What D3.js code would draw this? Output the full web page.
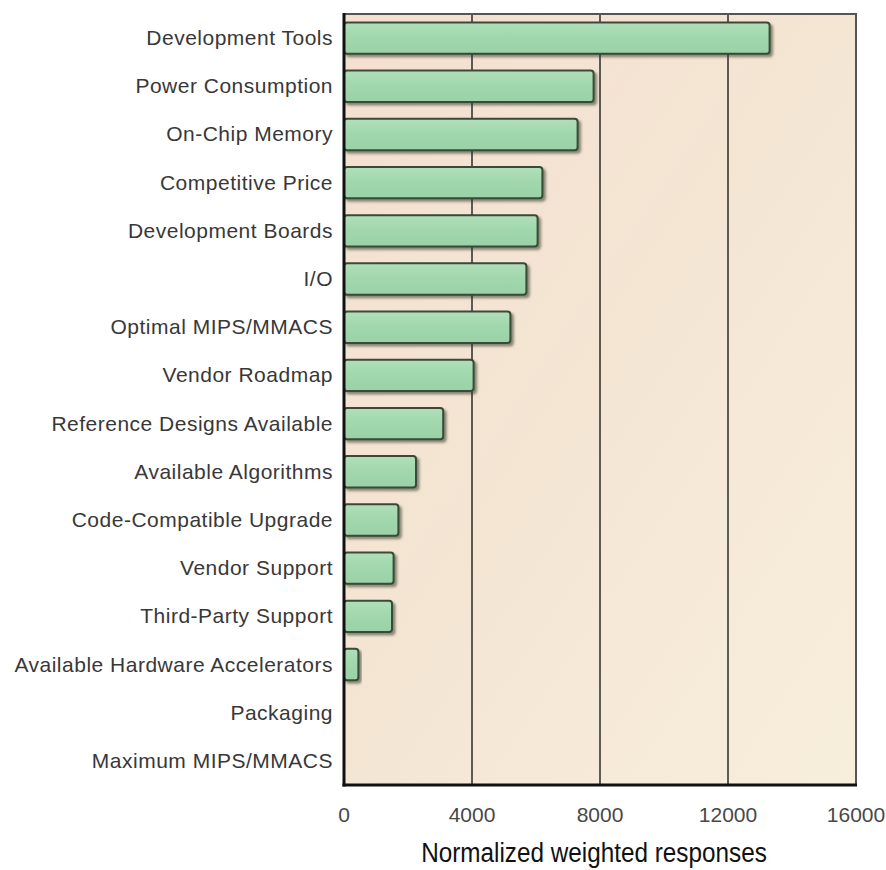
<!DOCTYPE html>
<html>
<head>
<meta charset="utf-8">
<script src="https://cdn.jsdelivr.net/npm/d3@7"></script>
<style>
  html, body { margin: 0; padding: 0; background: #ffffff; }
  svg { display: block; }
</style>
</head>
<body>
<svg id="chart" width="886" height="870"></svg>
<script>
const categories = [
  "Development Tools", "Power Consumption", "On-Chip Memory", "Competitive Price",
  "Development Boards", "I/O", "Optimal MIPS/MMACS", "Vendor Roadmap",
  "Reference Designs Available", "Available Algorithms", "Code-Compatible Upgrade",
  "Vendor Support", "Third-Party Support", "Available Hardware Accelerators",
  "Packaging", "Maximum MIPS/MMACS"
];
const values = [13300, 7800, 7300, 6200, 6050, 5700, 5200, 4050, 3100, 2250, 1700, 1550, 1500, 450, 0, 0];
const tickValues = [0, 4000, 8000, 12000, 16000];
const tickLabels = ["0", "4000", "8000", "12000", "16000"];
const axisTitle = "Normalized weighted responses";

const svg = d3.select("#chart");
const m = { left: 344, right: 856, top: 14, bottom: 785 };

const x = d3.scaleLinear().domain([0, 16000]).range([m.left, m.right]);
const y = d3.scaleBand().domain(categories).range([m.top, m.bottom]).paddingInner(0.35).paddingOuter(0.175);

const defs = svg.append("defs");
const bg = defs.append("linearGradient").attr("id", "bg").attr("x1", 0).attr("y1", 0).attr("x2", 1).attr("y2", 1);
bg.append("stop").attr("offset", 0).attr("stop-color", "#f5dfd1");
bg.append("stop").attr("offset", 0.45).attr("stop-color", "#f4e5d3");
bg.append("stop").attr("offset", 1).attr("stop-color", "#f8eedc");

const barG = defs.append("linearGradient").attr("id", "barfill").attr("x1", 0).attr("y1", 0).attr("x2", 0).attr("y2", 1);
barG.append("stop").attr("offset", 0).attr("stop-color", "#b0dfba");
barG.append("stop").attr("offset", 0.5).attr("stop-color", "#a0d7ac");
barG.append("stop").attr("offset", 1).attr("stop-color", "#9bd1a6");

const sh = defs.append("filter").attr("id", "shadow").attr("x", "-10%").attr("y", "-30%").attr("width", "130%").attr("height", "180%");
sh.append("feDropShadow").attr("dx", 2.5).attr("dy", 2.5).attr("stdDeviation", 1.2)
  .attr("flood-color", "#2f3a2c").attr("flood-opacity", 0.55);

// plot background
svg.append("rect")
  .attr("x", m.left).attr("y", m.top)
  .attr("width", m.right - m.left).attr("height", m.bottom - m.top)
  .attr("fill", "url(#bg)");

// gridlines
svg.append("g").selectAll("line")
  .data(tickValues.slice(1, -1))
  .join("line")
  .attr("x1", d => x(d)).attr("x2", d => x(d))
  .attr("y1", m.top).attr("y2", m.bottom)
  .attr("stroke", "#2b2b2b").attr("stroke-width", 1.5);

// frame top/right
svg.append("path")
  .attr("d", `M${m.left},${m.top}H${m.right}V${m.bottom}`)
  .attr("fill", "none").attr("stroke", "#555").attr("stroke-width", 2);

// bars
svg.append("g").selectAll("rect")
  .data(categories.map((c, i) => ({ c, v: values[i] })).filter(d => d.v > 0))
  .join("rect")
  .attr("x", x(0))
  .attr("y", d => y(d.c))
  .attr("width", d => x(d.v) - x(0))
  .attr("height", y.bandwidth())
  .attr("rx", 3).attr("ry", 3)
  .attr("fill", "url(#barfill)")
  .attr("stroke", "#3b4a38").attr("stroke-width", 2)
  .attr("filter", "url(#shadow)");

// axes lines (left & bottom)
svg.append("line").attr("x1", m.left).attr("x2", m.left).attr("y1", m.top - 1).attr("y2", m.bottom + 1.5)
  .attr("stroke", "#111").attr("stroke-width", 3);
svg.append("line").attr("x1", m.left - 1.5).attr("x2", m.right + 1).attr("y1", m.bottom).attr("y2", m.bottom)
  .attr("stroke", "#111").attr("stroke-width", 3);

// category labels
svg.append("g").selectAll("text")
  .data(categories)
  .join("text")
  .attr("x", m.left - 11)
  .attr("y", d => y(d) + y.bandwidth() / 2 + 7)
  .attr("text-anchor", "end")
  .attr("font-family", "'Liberation Sans', Arial, sans-serif")
  .attr("font-size", 21)
  .attr("letter-spacing", 0.5)
  .attr("fill", "#383838")
  .text(d => d);

// x tick labels
svg.append("g").selectAll("text")
  .data(tickValues)
  .join("text")
  .attr("x", d => x(d))
  .attr("y", 822)
  .attr("text-anchor", "middle")
  .attr("font-family", "'Liberation Sans', Arial, sans-serif")
  .attr("font-size", 21)
  .attr("fill", "#484848")
  .text((d, i) => tickLabels[i]);

// axis title (condensed)
const cx = (m.left + m.right) / 2 - 6;
svg.append("text")
  .attr("transform", `translate(${cx},862) scale(0.9,1)`)
  .attr("text-anchor", "middle")
  .attr("font-family", "'Liberation Sans', Arial, sans-serif")
  .attr("font-size", 27)
  .attr("fill", "#111")
  .text(axisTitle);
</script>
</body>
</html>
